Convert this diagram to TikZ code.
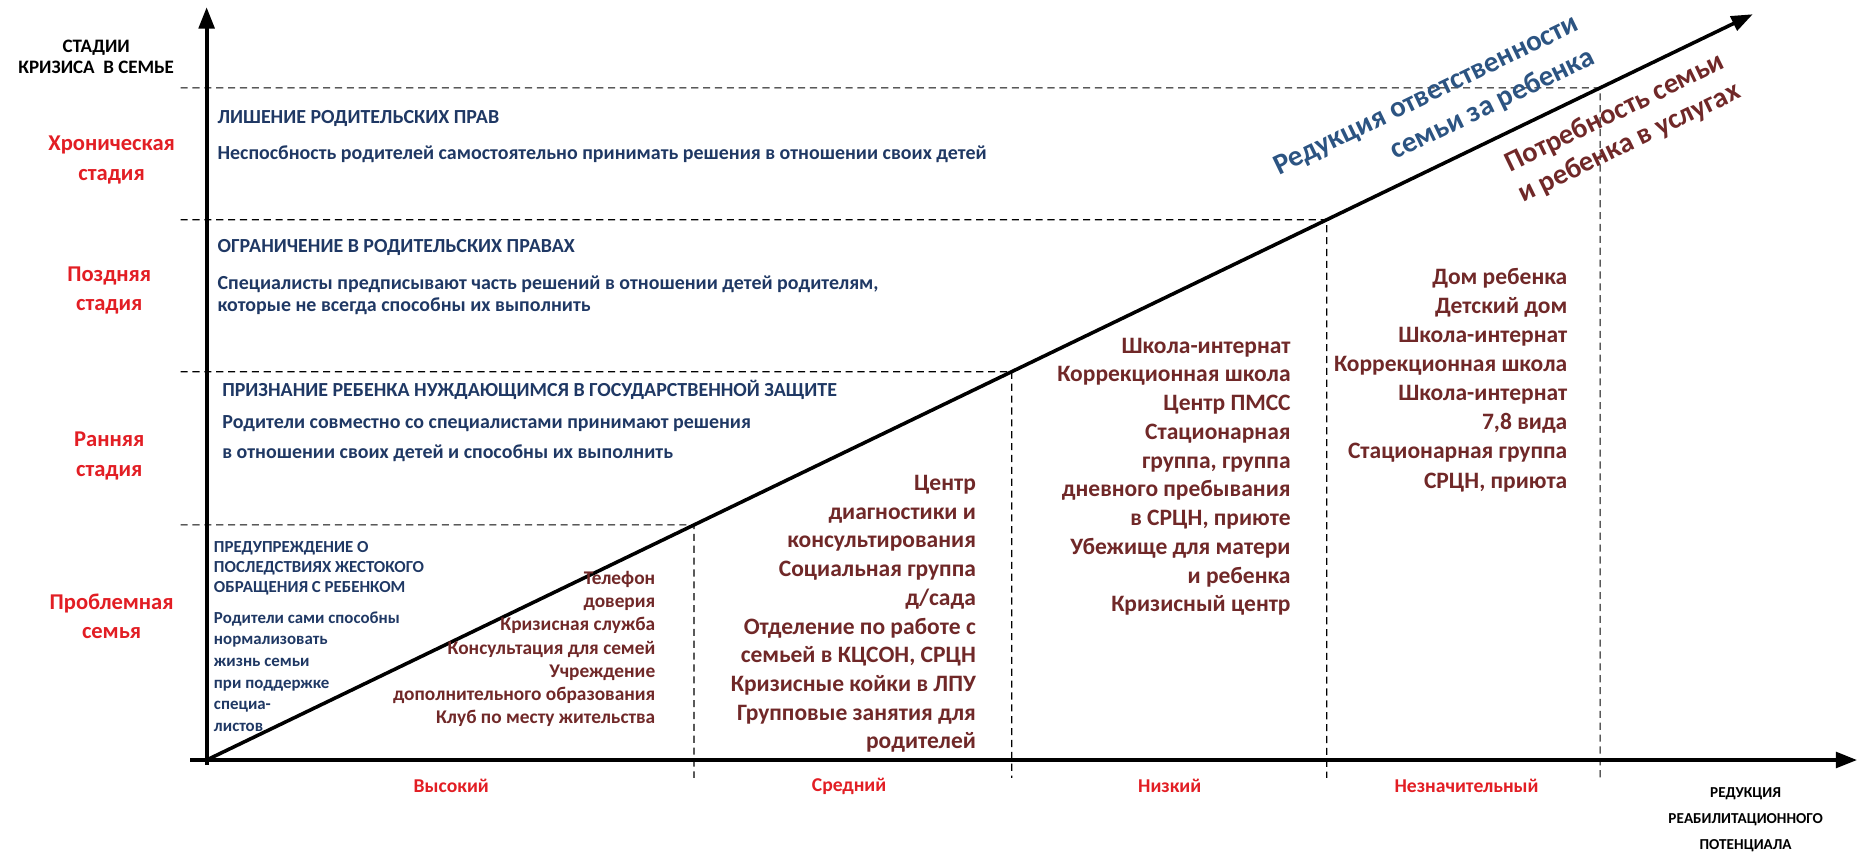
\documentclass[tikz,border=0pt]{standalone}
\usepackage{fontspec}
\setmainfont{Carlito}
\usetikzlibrary{arrows.meta,calc}
\definecolor{stagered}{RGB}{226,30,36}
\definecolor{deepnavy}{RGB}{31,56,100}
\definecolor{darkred}{RGB}{112,40,40}
\definecolor{steel}{RGB}{44,84,130}
\newcommand{\setfs}[2]{\fontsize{#1}{#2}\selectfont}
\begin{document}
\begin{tikzpicture}[x=1pt,y=-1pt,
  >={Triangle[length=18pt,width=13pt]},
  axis/.style={line width=3.5pt,->},
  grid/.style={line width=1pt,dash pattern=on 6pt off 4pt},
  stagelbl/.style={inner sep=0,align=center,text=stagered,font=\setfs{19}{25}\bfseries},
  headlbl/.style={inner sep=0,align=center,font=\setfs{16}{17.5}\bfseries},
  desc/.style={inner sep=0,anchor=west,align=left,text=deepnavy,font=\setfs{16.8}{19}\bfseries},
  service/.style={inner sep=0,anchor=east,align=right,text=darkred,font=\setfs{19.8}{24.2}\bfseries},
  levellbl/.style={inner sep=0,text=stagered,font=\setfs{16.5}{20}\bfseries},
  diaglbl/.style={inner sep=0,rotate=25.8,font=\bfseries}]
\useasboundingbox (0,0) rectangle (1568,717.5);
% axes
\coordinate (O) at (174,640);
\coordinate (ytop) at (174,6);
\coordinate (ybot) at (174,644);
\coordinate (xbeg) at (160,640);
\coordinate (xend) at (1564,640);
\coordinate (dend) at (1476,12);
\coordinate (base) at (0,655);
\draw[axis] (ybot) -- (ytop);
\draw[axis] (xbeg) -- (xend);
\draw[line width=3pt,->] (O) -- (dend);
% grid
\foreach \y/\nm in {442/a,313/b,185/c,74/d}{
  \coordinate (l\nm) at (152,\y);
  \coordinate (g\nm) at ($(O)!{(640-\y)/628}!(dend)$);
  \draw[grid] (l\nm) -- (g\nm) -- (g\nm |- base);
}
% stages
\node[headlbl] (stages) at (81,48) {СТАДИИ\\КРИЗИСА~~В СЕМЬЕ};
\node[stagelbl] (chron) at (94,134.5) {Хроническая\\стадия};
\node[stagelbl] (late) at (92,244.5) {Поздняя\\стадия};
\node[stagelbl] (early) at (92,384) {Ранняя\\стадия};
\node[stagelbl] (probl) at (94,519) {Проблемная\\семья};
% descriptions
\node[desc] (dep) at (183,100) {ЛИШЕНИЕ РОДИТЕЛЬСКИХ ПРАВ};
\node[desc] (depx) at (183,130) {Неспосбность родителей самостоятельно принимать решения в отношении своих детей};
\node[desc] (lim) at (183,208) {ОГРАНИЧЕНИЕ В РОДИТЕЛЬСКИХ ПРАВАХ};
\node[desc] (limx) at (183,248.5) {Специалисты предписывают часть решений в отношении детей родителям,\\которые не всегда способны их выполнить};
\node[desc] (rec) at (187,328) {ПРИЗНАНИЕ РЕБЕНКА НУЖДАЮЩИМСЯ В ГОСУДАРСТВЕННОЙ ЗАЩИТЕ};
\node[desc,font=\setfs{16.8}{25}\bfseries] (recx) at (187,369.5) {Родители совместно со специалистами принимают решения\\в отношении своих детей и способны их выполнить};
\node[desc,font=\setfs{14.2}{16.5}\bfseries] (warn) at (180,478.5) {ПРЕДУПРЕЖДЕНИЕ О\\ПОСЛЕДСТВИЯХ ЖЕСТОКОГО\\ОБРАЩЕНИЯ С РЕБЕНКОМ};
\node[desc,font=\setfs{14.2}{18.2}\bfseries] (warnx) at (180,565.5) {Родители сами способны\\нормализовать\\жизнь семьи\\при поддержке\\специа-\\листов};
% services
\node[service,font=\setfs{16.3}{19.5}\bfseries] (srvhigh) at (552,546.5) {Телефон\\доверия\\Кризисная служба\\Консультация для семей\\Учреждение\\дополнительного образования\\Клуб по месту жительства};
\node[service] (srvmid) at (822,517) {Центр\\диагностики и\\консультирования\\Социальная группа\\д/сада\\Отделение по работе с\\семьей в КЦСОН, СРЦН\\Кризисные койки в ЛПУ\\Групповые занятия для\\родителей};
\node[service] (srvlow) at (1087,401.5) {Школа-интернат\\Коррекционная школа\\Центр ПМСС\\Стационарная\\группа, группа\\дневного пребывания\\в СРЦН, приюте\\Убежище для матери\\и ребенка\\Кризисный центр};
\node[service,font=\setfs{19.8}{24.5}\bfseries] (srvmin) at (1320,320) {Дом ребенка\\Детский дом\\Школа-интернат\\Коррекционная школа\\Школа-интернат\\7,8 вида\\Стационарная группа\\СРЦН, приюта};
% levels
\node[levellbl] (high) at (380,662) {Высокий};
\node[levellbl] (mid) at (715,662) {Средний};
\node[levellbl] (low) at (985,662) {Низкий};
\node[levellbl] (minor) at (1235,662) {Незначительный};
\node[headlbl,font=\setfs{12.8}{22}\bfseries] (redx) at (1470,690) {РЕДУКЦИЯ\\РЕАБИЛИТАЦИОННОГО\\ПОТЕНЦИАЛА};
% along the diagonal
\node[diaglbl,text=steel,align=right,font=\setfs{24.5}{31}\bfseries] (resp) at (1208,95) {Редукция ответственности\\семьи за ребенка};
\node[diaglbl,text=darkred,align=center,font=\setfs{24}{28}\bfseries] (need) at (1366,108) {Потребность семьи\\и ребенка в услугах};
\end{tikzpicture}
\end{document}
